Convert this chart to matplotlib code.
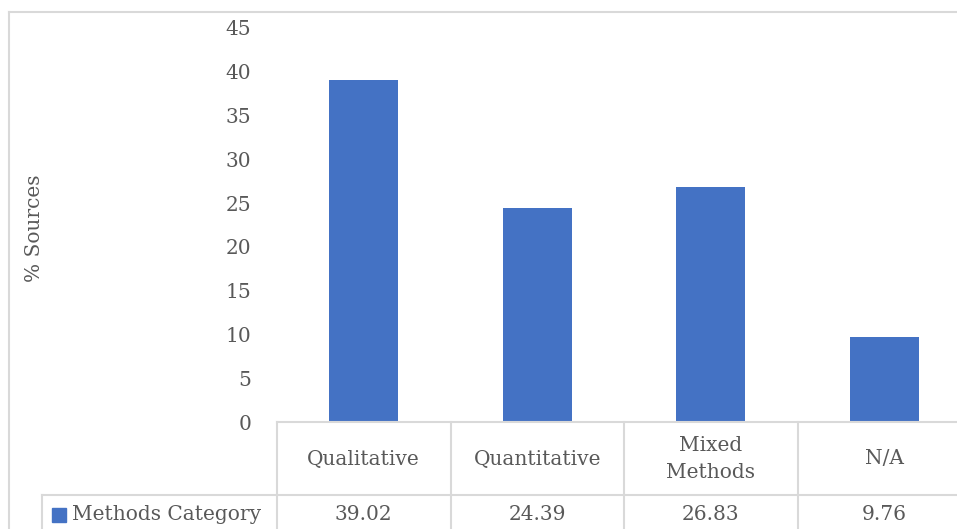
import matplotlib
matplotlib.use("Agg")
import matplotlib.pyplot as plt
from matplotlib.lines import Line2D
import matplotlib.transforms as mtransforms

categories = ["Qualitative", "Quantitative", "Mixed\nMethods", "N/A"]
values = [39.02, 24.39, 26.83, 9.76]
series_name = "Methods Category"
y_ticks = [0, 5, 10, 15, 20, 25, 30, 35, 40, 45]
y_label = "% Sources"

W, H = 957, 529
BAR_COLOR = "#4472C4"
GRID = "#d9d9d9"
TEXT = "#595959"
FS = 14.5
plt.rcParams["font.family"] = ["DejaVu Serif"]

fig = plt.figure(figsize=(W / 100, H / 100), dpi=100)

def fx(px):
    return px / W

def fy(py):
    return 1 - py / H

# outer chart border
fig.add_artist(Line2D([fx(9), fx(9)], [fy(12), fy(H + 5)], color=GRID, lw=1.5))
fig.add_artist(Line2D([fx(9), fx(W + 5)], [fy(12), fy(12)], color=GRID, lw=1.5))

ax_left, ax_right, ax_top, ax_bottom = 277, 971, 28, 422
ax = fig.add_axes([fx(ax_left), fy(ax_bottom), (ax_right - ax_left) / W, (ax_bottom - ax_top) / H])
x = list(range(len(categories)))
ax.bar(x, values, width=0.4, color=BAR_COLOR)
ax.set_xlim(-0.5, len(categories) - 0.5)
ax.set_ylim(0, 45)
ax.set_yticks(y_ticks)
ax.set_yticklabels([str(t) for t in y_ticks], fontsize=FS, color=TEXT)
ax.tick_params(axis="y", length=0, pad=18.5)
ax.set_xticks([])
for s in ax.spines.values():
    s.set_visible(False)
fig.text(fx(35), fy(228), y_label, rotation=90, ha="center", va="center",
         fontsize=FS, color=TEXT)

# data table under the plot
blend = mtransforms.blended_transform_factory(ax.transData, fig.transFigure)
row1_top, row2_top, row2_bottom = 422, 495, H + 5
for b in [-0.5 + i for i in range(len(categories) + 1)]:
    fig.add_artist(Line2D([b, b], [fy(row1_top), fy(row2_bottom)], color=GRID, lw=1.5,
                          transform=blend, clip_on=False))
fig.add_artist(Line2D([fx(ax_left), fx(W + 5)], [fy(row1_top), fy(row1_top)],
                      color=GRID, lw=1.5))
fig.add_artist(Line2D([fx(42), fx(W + 5)], [fy(row2_top), fy(row2_top)],
                      color=GRID, lw=1.5))
fig.add_artist(Line2D([fx(42), fx(42)], [fy(row2_top), fy(row2_bottom)],
                      color=GRID, lw=1.5))

for xi, cat, val in zip(x, categories, values):
    fig.text(xi, fy(459), cat, transform=blend, ha="center",
             va="center", fontsize=FS, color=TEXT, linespacing=1.5)
    fig.text(xi, fy(515), f"{val:.2f}", transform=blend, ha="center", va="center",
             fontsize=FS, color=TEXT)

# legend key inside the table
fig.add_artist(plt.Rectangle((fx(52), fy(522)), 14 / W, 14 / H, color=BAR_COLOR,
                             transform=fig.transFigure))
fig.text(fx(72), fy(515), series_name, ha="left", va="center", fontsize=FS, color=TEXT)

fig.savefig("out.png", dpi=100)
